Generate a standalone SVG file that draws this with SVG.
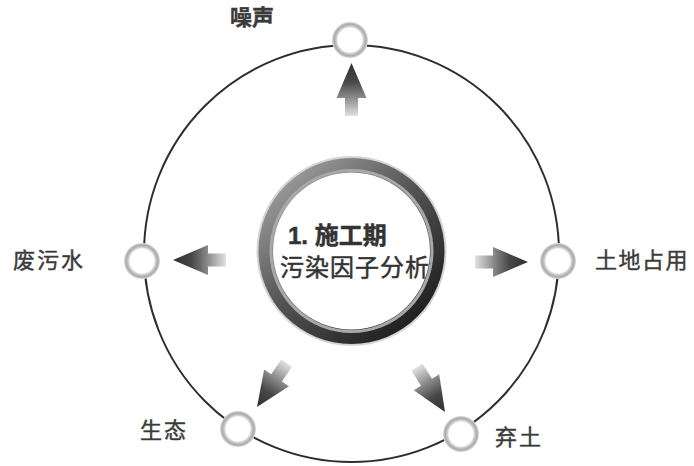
<svg xmlns="http://www.w3.org/2000/svg" width="694" height="466" viewBox="0 0 694 466">
  <defs>
    <linearGradient id="arrowGrad" x1="0" y1="0" x2="1" y2="0">
      <stop offset="0" stop-color="#e2e2e2"/>
      <stop offset="0.35" stop-color="#8a8a8a"/>
      <stop offset="0.65" stop-color="#474747"/>
      <stop offset="1" stop-color="#303030"/>
    </linearGradient>
    <linearGradient id="ringGrad" x1="0.15" y1="0.1" x2="0.85" y2="0.9">
      <stop offset="0" stop-color="#9a9a9a"/>
      <stop offset="0.45" stop-color="#555555"/>
      <stop offset="1" stop-color="#1e1e1e"/>
    </linearGradient>
    <radialGradient id="nodeGrad" cx="0.5" cy="0.5" r="0.5">
      <stop offset="0" stop-color="#ffffff"/>
      <stop offset="0.66" stop-color="#ffffff"/>
      <stop offset="0.76" stop-color="#cfcfcf"/>
      <stop offset="0.88" stop-color="#a9a9a9"/>
      <stop offset="1" stop-color="#dcdcdc"/>
    </radialGradient>
    <path id="arrow" d="M0 0 L-35 -15 L-35 -6.5 L-53 -6.5 L-53 6.5 L-35 6.5 L-35 15 Z"/>
    <style>
      .lbl { font-family: "Liberation Sans", "Noto Sans CJK SC", sans-serif; font-size: 22px; fill: #3a3a3a; stroke: #3a3a3a; stroke-width: 0.4; }
      .ctr { font-family: "Liberation Sans", "Noto Sans CJK SC", sans-serif; font-size: 24px; fill: #333333; stroke: #333333; stroke-width: 0.5; }
      .node { fill: url(#nodeGrad); }
      .arr { fill: url(#arrowGrad); }
    </style>
  </defs>
  <rect width="694" height="466" fill="#ffffff"/>

  <g id="connectors">
    <ellipse cx="351.5" cy="253.5" rx="207.5" ry="208.5" fill="none" stroke="#2e2e2e" stroke-width="2"/>
    <use href="#arrow" class="arr" transform="translate(351.5,63) rotate(-90)"/>
    <use href="#arrow" class="arr" transform="translate(173,260) rotate(180)"/>
    <use href="#arrow" class="arr" transform="translate(528,262)"/>
    <use href="#arrow" class="arr" transform="translate(257,407) rotate(124)"/>
    <use href="#arrow" class="arr" transform="translate(445,412) rotate(58)"/>
  </g>

  <g id="center">
    <circle cx="351.5" cy="251" r="95" fill="#b8b8b8" opacity="0.6"/>
    <circle cx="351.5" cy="251" r="93" fill="url(#ringGrad)"/>
    <circle cx="351.5" cy="251" r="80.5" fill="none" stroke="#a8a8a8" stroke-width="3"/>
    <circle cx="351.5" cy="251" r="78.5" fill="#ffffff"/>
    <text class="ctr" x="288" y="244" font-weight="bold">1. 施工期</text>
    <text class="ctr" x="280" y="275.5" letter-spacing="1">污染因子分析</text>
  </g>

  <g id="node-noise">
    <circle class="node" cx="350" cy="40" r="18"/>
    <text class="lbl" x="230" y="25" font-weight="bold">噪声</text>
  </g>
  <g id="node-wastewater">
    <circle class="node" cx="142" cy="261" r="18"/>
    <text class="lbl" x="13" y="268" letter-spacing="2">废污水</text>
  </g>
  <g id="node-land">
    <circle class="node" cx="558" cy="261" r="18"/>
    <text class="lbl" x="595" y="268" letter-spacing="1.5">土地占用</text>
  </g>
  <g id="node-ecology">
    <circle class="node" cx="238" cy="429" r="18"/>
    <text class="lbl" x="140" y="438" letter-spacing="2">生态</text>
  </g>
  <g id="node-spoil">
    <circle class="node" cx="461" cy="434" r="18"/>
    <text class="lbl" x="495" y="445" letter-spacing="2">弃土</text>
  </g>
</svg>
